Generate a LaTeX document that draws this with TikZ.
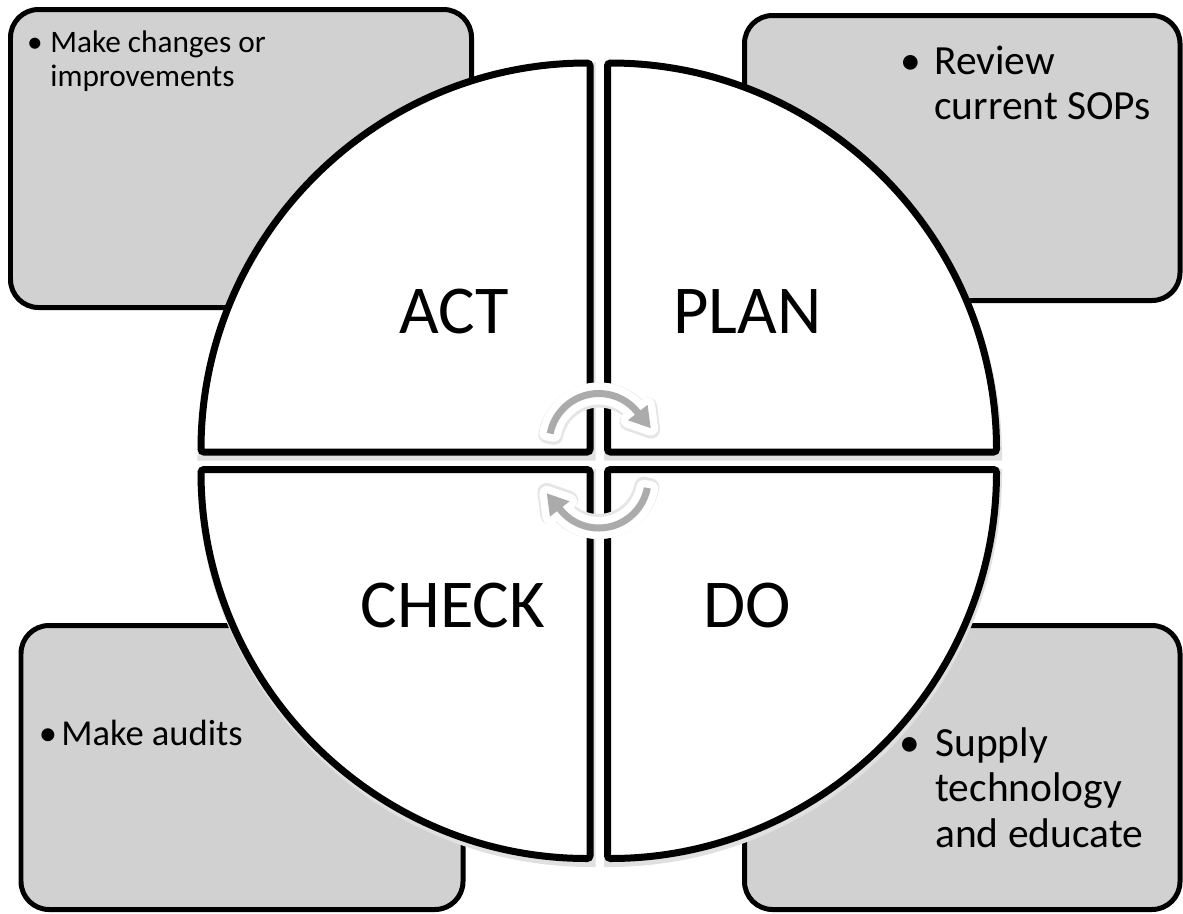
\documentclass[tikz,border=0pt]{standalone}
\usepackage{fontspec}
\setmainfont{Carlito}

% outline of one turning arrow, drawn round the origin
\newcommand{\turnpath}{(191:53) arc[start angle=191, end angle=322, radius=53]
  -- (322:62) -- (344:54) -- (322:37) -- (322:46)
  arc[start angle=322, end angle=191, radius=46] -- cycle}

\begin{document}
\begin{tikzpicture}[
    x=0.02cm, y=-0.02cm,
    infobox/.style={draw=black, line width=0.1cm, fill=black!18, rounded corners=0.56cm},
    quad/.style={draw=black, line width=0.14cm, fill=white, rounded corners=0.06cm},
    quadshadow/.style={draw=black!12, line width=0.18cm, fill=black!12},
    phase/.style={inner sep=0pt, anchor=base, font=\fontsize{39}{47}\selectfont},
    dot/.style={inner sep=0pt, anchor=base},
    item/.style={inner sep=0pt, anchor=base west},
    smalltext/.style={font=\fontsize{17.8}{19.8}\selectfont},
    midtext/.style={font=\fontsize{23.6}{26}\selectfont},
    audittext/.style={font=\fontsize{20.8}{24}\selectfont},
    arrowshade/.style={draw=black!10, fill=black!10, line width=0.36cm, line join=round},
    arrowrim/.style={draw=white, fill=white, line width=0.3cm, line join=round},
    arrowbody/.style={fill=black!33}
]
\useasboundingbox (0,0) rectangle (1183,913);

% The four grey boxes behind the circle
\draw[infobox] (10.5,9.5) rectangle (471.5,307.5);
\draw[infobox] (744.5,15.5) rectangle (1180,300.5);
\draw[infobox] (21,625.5) rectangle (463,909.5);
\draw[infobox] (744.5,625.5) rectangle (1180,909.5);

% The circle, split into four quarters
\foreach \cx/\cy/\a in {590/452/180, 607.5/452/270, 607.5/469.5/0, 590/469.5/90}
  \fill[quadshadow, shift={(1,4)}] (\cx,\cy) -- ++(\a:389)
    arc[start angle=\a, end angle=\a+90, radius=389] -- cycle;
\foreach \cx/\cy/\a in {590/452/180, 607.5/452/270, 607.5/469.5/0, 590/469.5/90}
  \draw[quad] (\cx,\cy) -- ++(\a:389)
    arc[start angle=\a, end angle=\a+90, radius=389] -- cycle;

\node[phase] (act)   at (454.5,333) {ACT};
\node[phase] (plan)  at (747.5,333) {PLAN};
\node[phase] (check) at (453,627)   {CHECK};
\node[phase] (do)    at (747,627)   {DO};

% Box texts
\node[dot, smalltext] (actdot) at (35,52) {\textbullet};
\node[item, smalltext] (acttext) at (50,52)
  {\begin{tabular}[t]{@{}l@{}}Make changes or\\improvements\end{tabular}};

\node[dot, midtext] (plandot) at (911,74) {\textbullet};
\node[item, midtext] (plantext) at (934,74)
  {\begin{tabular}[t]{@{}l@{}}Review\\current SOPs\end{tabular}};

\node[dot, audittext] (checkdot) at (48,745) {\textbullet};
\node[item, audittext] (checktext) at (61,745) {Make audits};

\node[dot, midtext] (dodot) at (910,756) {\textbullet};
\node[item, midtext] (dotext) at (935,756)
  {\begin{tabular}[t]{@{}l@{}}Supply\\technology\\and educate\end{tabular}};

% The two turning arrows in the middle
\foreach \cy/\r in {443/0, 478.5/180}
{
  \begin{scope}[shift={(598.75,\cy)}, rotate=\r]
    \draw[arrowshade, shift={(0.5,1.5)}] \turnpath;
    \draw[arrowrim] \turnpath;
    \fill[arrowbody] \turnpath;
  \end{scope}
}
\end{tikzpicture}
\end{document}
